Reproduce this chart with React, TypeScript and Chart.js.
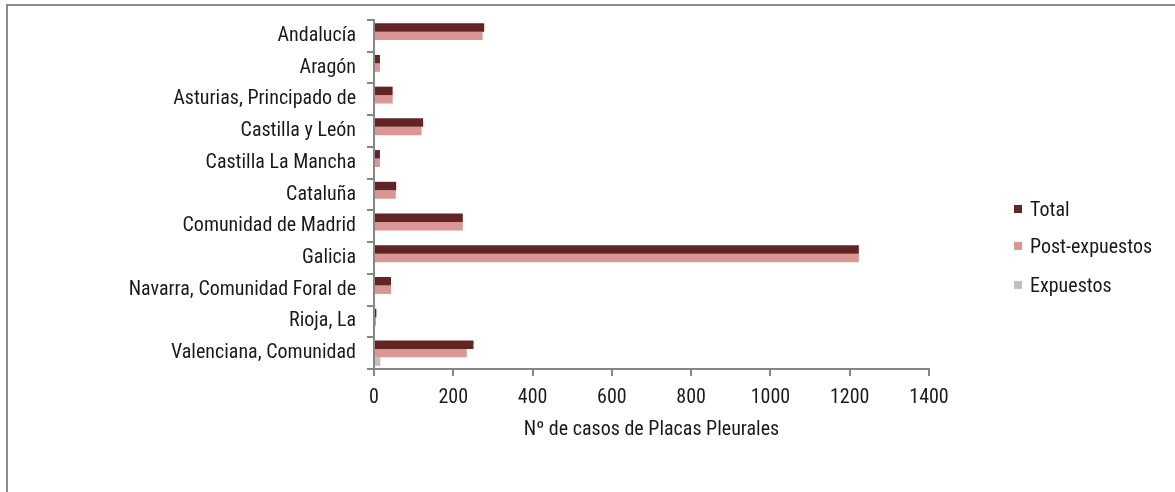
import React, { useEffect, useRef } from "react";
import { Chart, registerables } from "chart.js";

Chart.register(...registerables);

const categories = [
  "Andalucía",
  "Aragón",
  "Asturias, Principado de",
  "Castilla y León",
  "Castilla La Mancha",
  "Cataluña",
  "Comunidad de Madrid",
  "Galicia",
  "Navarra, Comunidad Foral de",
  "Rioja, La",
  "Valenciana, Comunidad",
];

const totalValues = [278, 15, 47, 124, 15, 56, 224, 1223, 43, 6, 251];
const postExpuestosValues = [274, 15, 47, 120, 15, 55, 224, 1223, 43, 5, 234];
const expuestosValues = [0, 0, 0, 0, 0, 0, 0, 0, 0, 0, 16];

const seriesNames = ["Total", "Post-expuestos", "Expuestos"];
const seriesColors = ["#632523", "#D99694", "#C0C0C0"];
const xTitle = "Nº de casos de Placas Pleurales";

const FONT = "'Roboto Condensed', 'Liberation Sans', sans-serif";
const TEXT = "#1a1a1a";

const noPad = (s: any) => {
  s.paddingTop = 0;
  s.paddingBottom = 0;
  s.paddingLeft = 0;
  s.paddingRight = 0;
};

export default function App() {
  const ref = useRef<HTMLCanvasElement | null>(null);

  useEffect(() => {
    if (!ref.current) return;
    const axisColor = "#868686";
    const chart = new Chart(ref.current, {
      type: "bar",
      data: {
        labels: categories,
        datasets: [
          { label: seriesNames[0], data: totalValues, backgroundColor: seriesColors[0] },
          { label: seriesNames[1], data: postExpuestosValues, backgroundColor: seriesColors[1] },
          { label: seriesNames[2], data: expuestosValues, backgroundColor: seriesColors[2] },
        ],
      },
      options: {
        indexAxis: "y",
        animation: false,
        responsive: false,
        maintainAspectRatio: false,
        layout: { padding: { left: 0, top: 13, right: 246, bottom: 47 } },
        datasets: { bar: { categoryPercentage: 0.8, barPercentage: 1.0 } },
        plugins: { legend: { display: false }, tooltip: { enabled: false } },
        scales: {
          x: {
            min: 0,
            max: 1400,
            ticks: {
              stepSize: 200,
              color: TEXT,
              font: { family: FONT, size: 20 },
              padding: 10,
              callback: (v: any) => String(v),
            },
            grid: {
              drawOnChartArea: false,
              drawTicks: true,
              tickLength: 7,
              color: axisColor,
              lineWidth: 2,
            },
            border: { display: true, color: axisColor, width: 2 },
            title: {
              display: true,
              text: xTitle,
              color: TEXT,
              font: { family: FONT, size: 20 },
              padding: { top: 4, bottom: 4 },
            },
            afterFit: (s: any) => {
              s.height = 77;
              noPad(s);
            },
          },
          y: {
            offset: true,
            ticks: {
              autoSkip: false,
              color: TEXT,
              font: { family: FONT, size: 20 },
              padding: 11,
            },
            grid: {
              offset: true,
              drawOnChartArea: false,
              drawTicks: true,
              tickLength: 7,
              color: axisColor,
              lineWidth: 2,
            },
            border: { display: true, color: axisColor, width: 2 },
            afterFit: (s: any) => {
              s.width = 365;
              noPad(s);
            },
          },
        },
      },
    });
    return () => chart.destroy();
  }, []);

  const legendTop = [191, 228, 267];

  return (
    <div
      style={{
        position: "absolute",
        left: 6,
        top: 4,
        width: 1200,
        height: 520,
        border: "2px solid #8c8c8c",
        background: "#fff",
        overflow: "hidden",
        fontFamily: FONT,
      }}
    >
      <canvas
        ref={ref}
        width={1166}
        height={486}
        style={{ position: "absolute", left: 1, top: 1, width: 1166, height: 486 }}
      />
      {seriesNames.map((n, i) => (
        <div
          key={n}
          style={{
            position: "absolute",
            left: 1006,
            top: legendTop[i],
            height: 24,
            display: "flex",
            alignItems: "center",
            fontSize: 20,
            color: TEXT,
            whiteSpace: "nowrap",
          }}
        >
          <span
            style={{
              display: "inline-block",
              width: 8,
              height: 8,
              background: seriesColors[i],
              marginRight: 8,
            }}
          />
          {n}
        </div>
      ))}
    </div>
  );
}
